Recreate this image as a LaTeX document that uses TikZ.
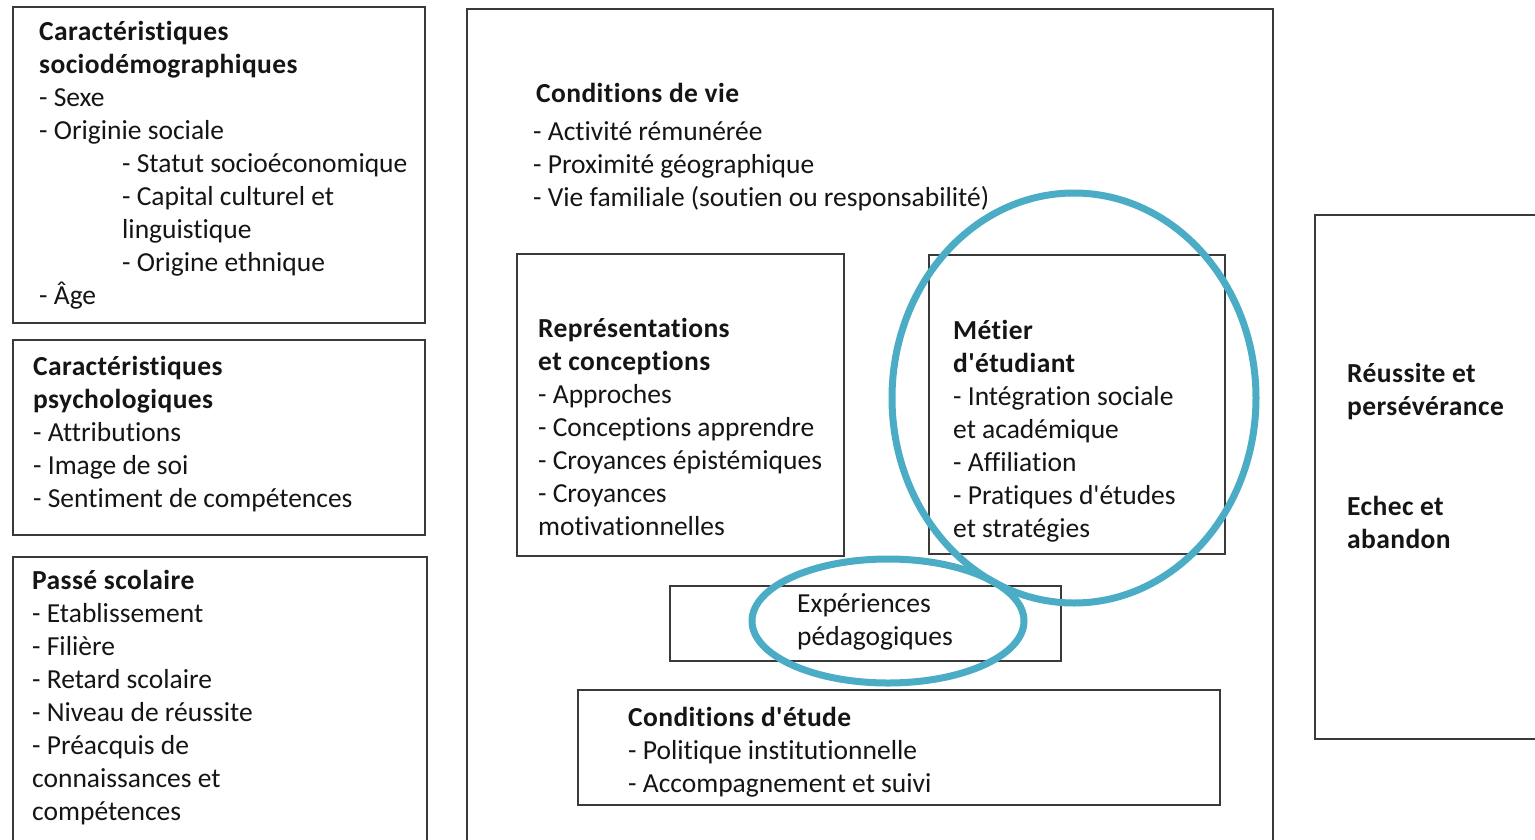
\documentclass[tikz,border=0pt]{standalone}
\usepackage{fontspec}
\setmainfont{Carlito}[Ligatures={TeXOff,NoCommon},BoldFeatures={LetterSpace=1.5}]
\definecolor{boxline}{HTML}{3A3A3A}
\definecolor{ring}{HTML}{4BACC6}
\definecolor{ink}{HTML}{151515}
\newcommand\blocktext[1]{\begin{tabular}[t]{@{}l@{}}#1\end{tabular}}
\tikzset{
  frame/.style={draw=boxline,line width=2pt},
  label/.style={anchor=base west,inner sep=0pt,text=ink,font=\fontsize{27.5}{33}\selectfont},
  ringline/.style={draw=ring,line width=7pt}
}
\begin{document}
\begin{tikzpicture}[x=1pt,y=-1pt]
\useasboundingbox (0,0) rectangle (1535,839);
% boxes
\path[frame,fill=white] (467,9) rectangle (1273,860);
\path[frame] (13,7) rectangle (425,323);
\path[frame] (13,340) rectangle (425,535);
\path[frame] (13,557) rectangle (427,860);
\path[frame] (517,254) rectangle (844,556);
\path[frame] (929,255) rectangle (1225,554);
\path[frame] (670,586) rectangle (1061,661);
\path[frame] (578,690) rectangle (1220,805);
\path[frame] (1315,215) rectangle (1560,739);
% texts
\node[label] (socio) at (39,40) {\blocktext{\textbf{Caractéristiques}\\
\textbf{sociodémographiques}\\
- Sexe\\
- Originie sociale\\
\hspace*{83pt}- Statut socioéconomique\\
\hspace*{83pt}- Capital culturel et\\
\hspace*{83pt}linguistique\\
\hspace*{83pt}- Origine ethnique\\
- Âge}};
\node[label] (psycho) at (33,375) {\blocktext{\textbf{Caractéristiques}\\
\textbf{psychologiques}\\
- Attributions\\
- Image de soi\\
- Sentiment de compétences}};
\node[label] (passe) at (32,589) {\blocktext{\textbf{Passé scolaire}\\
- Etablissement\\
- Filière\\
- Retard scolaire\\
- Niveau de réussite\\
- Préacquis de\\
connaissances et\\
compétences}};
\node[label] (vie) at (533,102) {\blocktext{\hspace*{3pt}\textbf{Conditions de vie}\\[5pt]
- Activité rémunérée\\
- Proximité géographique\\
- Vie familiale (soutien ou responsabilité)}};
\node[label] (repr) at (538,337) {\blocktext{\textbf{Représentations}\\
\textbf{et conceptions}\\
- Approches\\
- Conceptions apprendre\\
- Croyances épistémiques\\
- Croyances\\
motivationnelles}};
\node[label] (metier) at (953,339) {\blocktext{\textbf{Métier}\\
\textbf{d'étudiant}\\
- Intégration sociale\\
et académique\\
- Affiliation\\
- Pratiques d'études\\
et stratégies}};
\node[label] (exper) at (797,612) {\blocktext{Expériences\\
pédagogiques}};
\node[label] (etude) at (628,726) {\blocktext{\textbf{Conditions d'étude}\\
- Politique institutionnelle\\
- Accompagnement et suivi}};
\node[label] (reussite) at (1347,382) {\blocktext{\textbf{Réussite et}\\
\textbf{persévérance}}};
\node[label] (echec) at (1347,515) {\blocktext{\textbf{Echec et}\\
\textbf{abandon}}};
% highlight rings
\path[ringline] (1074,398) ellipse [x radius=182, y radius=205];
\path[ringline] (888,621) ellipse [x radius=136, y radius=62];
\end{tikzpicture}
\end{document}
